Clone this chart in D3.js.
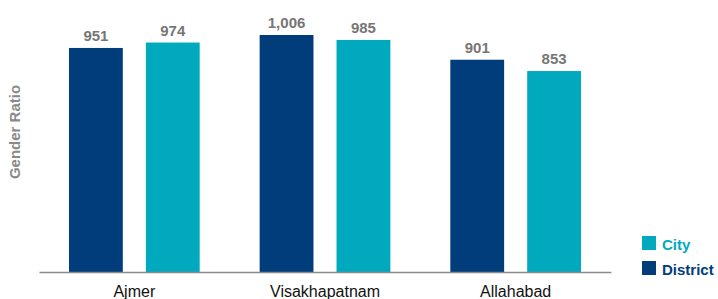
<!DOCTYPE html>
<html>
<head>
<meta charset="utf-8">
<script src="https://cdn.jsdelivr.net/npm/d3@7"></script>
<style>
  body { margin: 0; background: #fff; }
  text { font-family: "Liberation Sans", Arial, sans-serif; }
</style>
</head>
<body>
<svg></svg>
<script>
//chart data
let cities = ["Ajmer", "Visakhapatnam", "Allahabad"];
let series = ["District", "City"];
let districtValues = [951, 1006, 901];
let cityValues = [974, 985, 853];
let colors = { District: "#003d7a", City: "#00a9bd" };

let width = 718;
let height = 299;
let baseline = 272;

let svg = d3.select("svg").attr("width", width).attr("height", height);

let rows = cities.map((c, i) => {
  return { city: c, District: districtValues[i], City: cityValues[i] };
});

//scales
let x0 = d3.scaleBand().domain(cities).range([39, 611]);
let x1 = d3
  .scaleBand()
  .domain(series)
  .range([0, x0.bandwidth()])
  .paddingInner(0.3)
  .paddingOuter(0.39);
let y = d3
  .scaleLinear()
  .domain([0, 1006])
  .range([baseline, 35]);

//bars
let groups = svg
  .selectAll("g.group")
  .data(rows)
  .enter()
  .append("g")
  .attr("class", "group")
  .attr("transform", (d) => "translate(" + x0(d.city) + ",0)");

groups
  .selectAll("rect")
  .data((d) => series.map((s) => ({ key: s, value: d[s] })))
  .enter()
  .append("rect")
  .attr("x", (d) => x1(d.key))
  .attr("width", x1.bandwidth())
  .attr("y", (d) => y(d.value))
  .attr("height", (d) => baseline - y(d.value))
  .attr("fill", (d) => colors[d.key]);

groups
  .selectAll("text.val")
  .data((d) => series.map((s) => ({ key: s, value: d[s] })))
  .enter()
  .append("text")
  .attr("class", "val")
  .attr("x", (d) => x1(d.key) + x1.bandwidth() / 2)
  .attr("y", (d) => y(d.value) - 7)
  .attr("text-anchor", "middle")
  .attr("font-size", 15)
  .attr("font-weight", "bold")
  .attr("fill", "#767676")
  .text((d) => d3.format(",")(d.value));

//x axis
let xAxis = d3.axisBottom(x0).tickSize(0).tickPadding(14);
let gx = svg
  .append("g")
  .attr("transform", "translate(0," + baseline + ")")
  .call(xAxis);
gx.select(".domain").attr("stroke", "#8a8a8a").attr("stroke-width", 1.5);
gx.selectAll("text")
  .attr("font-size", 16)
  .attr("fill", "#111")
  .style("font-family", "'Liberation Sans', Arial, sans-serif");

//y title
svg
  .append("text")
  .attr("transform", "translate(20,132) rotate(-90)")
  .attr("text-anchor", "middle")
  .attr("font-size", 15)
  .attr("font-weight", "bold")
  .attr("fill", "#8a8a8a")
  .text("Gender Ratio");

//legend
let legendItems = ["City", "District"];
let legend = svg
  .selectAll("g.legend")
  .data(legendItems)
  .enter()
  .append("g")
  .attr("class", "legend")
  .attr("transform", (d, i) => "translate(642," + (236 + i * 25) + ")");
legend
  .append("rect")
  .attr("width", 14)
  .attr("height", 14)
  .attr("fill", (d) => colors[d]);
legend
  .append("text")
  .attr("x", 20)
  .attr("y", 14)
  .attr("font-size", 15)
  .attr("font-weight", "bold")
  .attr("fill", (d) => colors[d])
  .text((d) => d);
</script>
</body>
</html>
